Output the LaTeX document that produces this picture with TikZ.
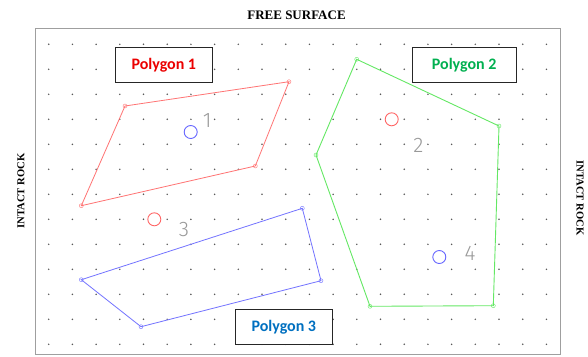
\documentclass[tikz,border=0pt]{standalone}
\usepackage{fontspec}
\setmainfont{Liberation Serif}
\newfontfamily\calib{Carlito}
\newfontfamily\numfont{Fira Sans Light}
\definecolor{pgreen}{RGB}{100,232,100}
\definecolor{pred}{RGB}{255,115,115}
\definecolor{pblue}{RGB}{115,115,255}
\begin{document}
\begin{tikzpicture}[x=1pt,y=-1pt,
  frame/.style={draw=gray!75,line width=1.1pt},
  griddot/.style={fill=black!65},
  labelbox/.style={draw=black!85,line width=0.9pt,fill=white,minimum height=34.6pt,inner sep=0pt,font=\calib\bfseries\fontsize{16}{18}\selectfont},
  sidelabel/.style={font=\bfseries\fontsize{10.6}{12}\selectfont},
  polyred/.style={draw=pred,line width=0.8pt},
  polygreen/.style={draw=pgreen,line width=0.9pt},
  polyblue/.style={draw=pblue,line width=0.8pt},
  vmark/.style={circle,draw,inner sep=0pt,minimum size=4pt},
  centroid/.style={circle,line width=0.9pt,inner sep=0pt,minimum size=13pt},
  numlabel/.style={text=gray!80,font=\numfont\fontsize{21}{22}\selectfont,inner sep=0pt}
]
\useasboundingbox (0,0) rectangle (588,356);
\fill[white] (0,0) rectangle (588,356);
% frame
\draw[frame] (35.7,28.3) rectangle (560.7,354.3);
% dots
\foreach \i in {0,...,21}{
  \foreach \j in {0,...,12}{
    \fill[griddot] (48.7+23.7*\i,44.3+25*\j) circle (0.85);
  }
}
% titles
\node[font=\bfseries\fontsize{13}{15}\selectfont] (free) at (296.5,15) {FREE SURFACE};
\node[sidelabel,rotate=90] (leftrock) at (21,191) {INTACT ROCK};
\node[sidelabel,rotate=-90] (rightrock) at (580,198) {INTACT ROCK};

% polygon 1
\coordinate (a1) at (125,106);
\coordinate (a2) at (289,81.7);
\coordinate (a3) at (255.3,166);
\coordinate (a4) at (81.3,205.7);
\draw[polyred] (a1) -- (a2) -- (a3) -- (a4) -- cycle;
\foreach \p in {a1,a2,a3,a4}{\node[vmark,draw=pred] at (\p) {};}

% polygon 2
\coordinate (b1) at (356.7,59.3);
\coordinate (b2) at (499,126);
\coordinate (b3) at (493.3,305.7);
\coordinate (b4) at (370,306.3);
\coordinate (b5) at (316,155);
\draw[polygreen] (b1) -- (b2) -- (b3) -- (b4) -- (b5) -- cycle;
\foreach \p in {b1,b2,b3,b4,b5}{\node[vmark,draw=pgreen] at (\p) {};}

% polygon 3
\coordinate (c1) at (81.3,279.7);
\coordinate (c2) at (141,326.7);
\coordinate (c3) at (321,280.7);
\coordinate (c4) at (302.3,208.3);
\draw[polyblue] (c1) -- (c2) -- (c3) -- (c4) -- cycle;
\foreach \p in {c1,c2,c3,c4}{\node[vmark,draw=pblue] at (\p) {};}

% centroid circles
\node[centroid,draw=blue!60] (o1) at (190.7,132) {};
\node[centroid,draw=red!60] (o2) at (391.7,119.3) {};
\node[centroid,draw=red!60] (o3) at (154.3,219.3) {};
\node[centroid,draw=blue!60] (o4) at (439.3,257) {};

% numbers
\node[numlabel] (n1) at (207.3,120.7) {1};
\node[numlabel] (n2) at (418.3,145.7) {2};
\node[numlabel] (n3) at (184,230) {3};
\node[numlabel] (n4) at (470,253.3) {4};

% label boxes
\node[labelbox,minimum width=97.7pt,text={rgb,255:red,235;green,0;blue,0}] (p1) at (163.8,65) {Polygon 1};
\node[labelbox,minimum width=104.3pt,text={rgb,255:red,0;green,176;blue,80}] (p2) at (464.2,65) {Polygon 2};
\node[labelbox,minimum width=97.7pt,text={rgb,255:red,0;green,112;blue,192}] (p3) at (283.8,327.2) {Polygon 3};
\end{tikzpicture}
\end{document}
